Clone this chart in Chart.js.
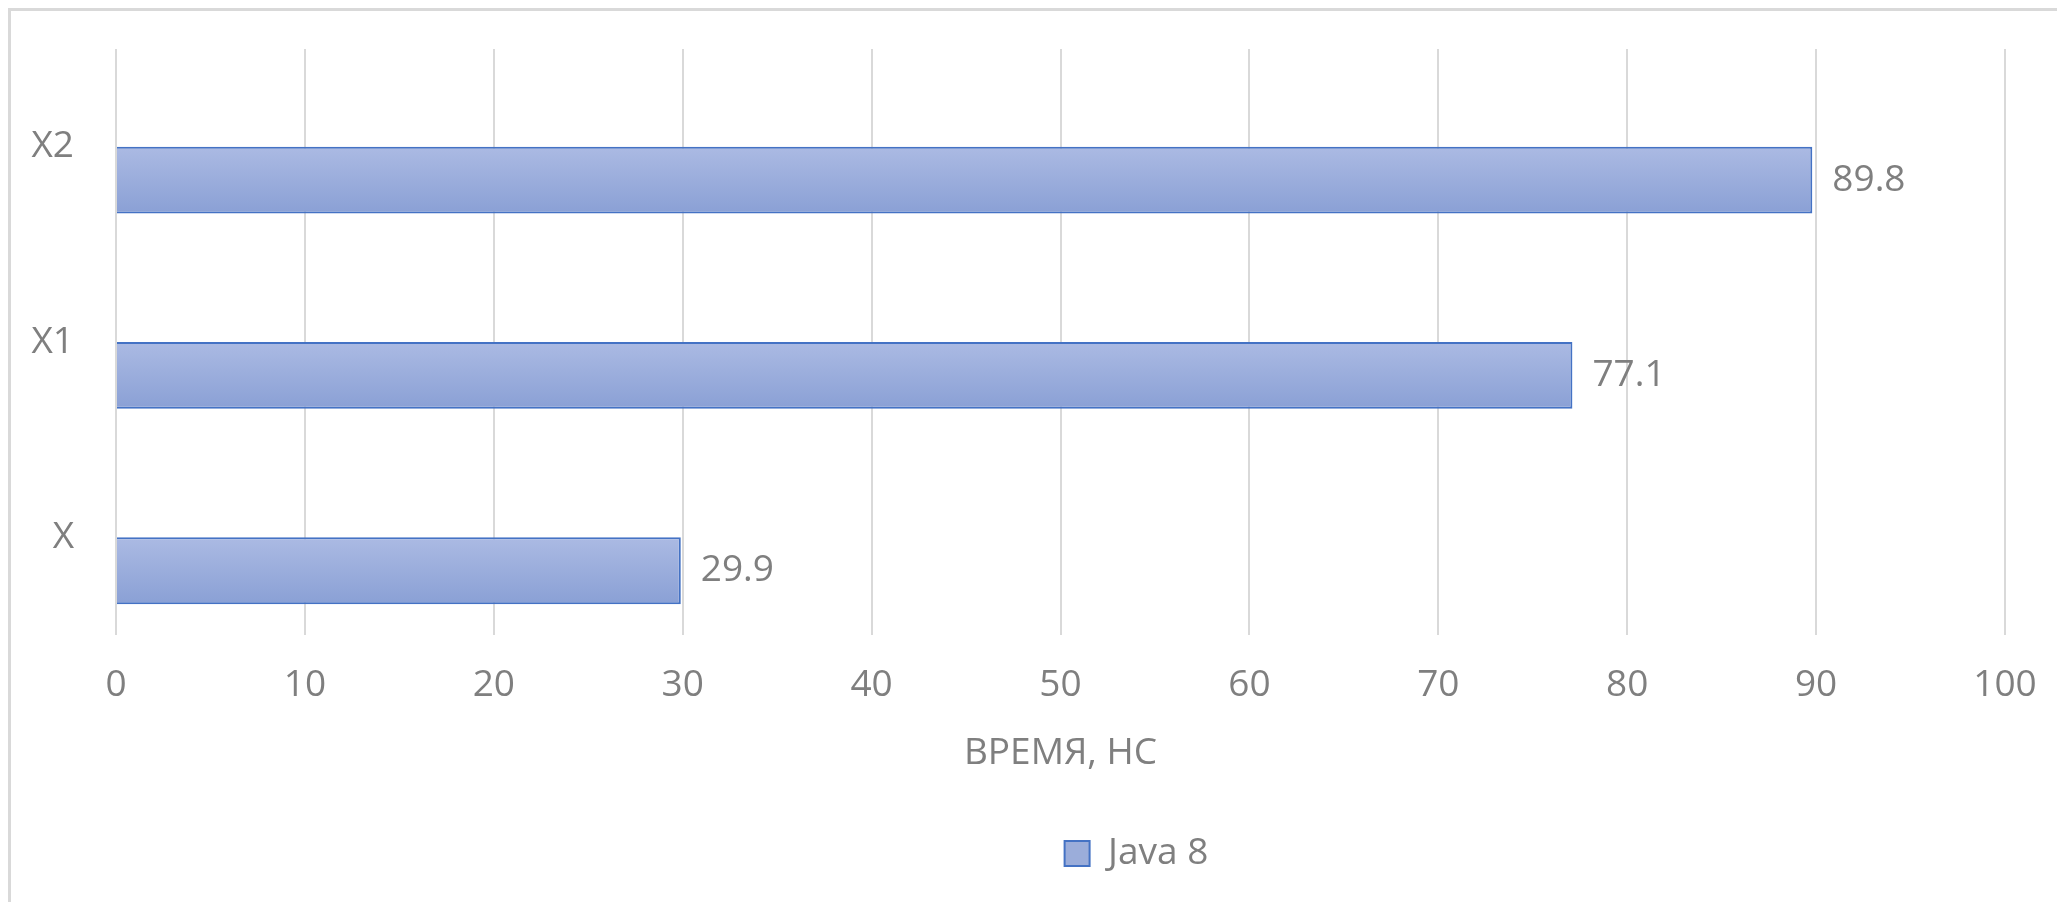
<!DOCTYPE html>
<html>
<head>
<meta charset="utf-8">
<title>Java 8</title>
<script src="https://cdn.jsdelivr.net/npm/chart.js@4.4.1/dist/chart.umd.min.js"></script>
<style>
	html, body { margin: 0; padding: 0; background: #ffffff; overflow: hidden; }
	#wrap { position: relative; width: 2057px; height: 902px; }
	#frame {
		position: absolute; left: 8px; top: 8px; right: -10px; bottom: -10px;
		border-left: 3px solid #d9d9d9; border-top: 3px solid #d9d9d9;
	}
	#chart { position: absolute; left: 0; top: 0; }
</style>
</head>
<body>
<div id="wrap">
	<div id="frame"></div>
	<canvas id="chart" width="2057" height="902"></canvas>
</div>
<script>
// categories listed bottom-up, like the spreadsheet
const categories = ['X', 'X1', 'X2'];
const seriesName = 'Java 8';
const java8 = [29.9, 77.1, 89.8];
// empty series: it still takes the upper slot in each category
const spare = [null, null, null];
const xTicks = [0, 10, 20, 30, 40, 50, 60, 70, 80, 90, 100];
const axisTitle = 'ВРЕМЯ, НС';

const grey = '#7f7f7f';
const font = { family: "'Open Sans', 'Liberation Sans', sans-serif", size: 37 };
const JAVA = 1; // dataset index of the drawn series

// vertical gradient fill for every bar
const barGradient = {
	id: 'barGradient',
	beforeDatasetsDraw(chart) {
		const ctx = chart.ctx;
		const meta = chart.getDatasetMeta(JAVA);
		meta.data.forEach(bar => {
			const top = bar.y - bar.height / 2;
			const g = ctx.createLinearGradient(0, top, 0, top + bar.height);
			g.addColorStop(0, '#abbae3');
			g.addColorStop(1, '#8aa0d5');
			bar.options = Object.assign({}, bar.options, { backgroundColor: g });
		});
	}
};

// value labels to the right of the bars
const valueLabels = {
	id: 'valueLabels',
	afterDatasetsDraw(chart) {
		const ctx = chart.ctx;
		const meta = chart.getDatasetMeta(JAVA);
		ctx.save();
		ctx.fillStyle = grey;
		ctx.font = font.size + 'px ' + font.family;
		ctx.textAlign = 'left';
		ctx.textBaseline = 'middle';
		meta.data.forEach((bar, i) => {
			ctx.fillText(java8[i].toFixed(1), bar.x + 20, bar.y);
		});
		ctx.restore();
	}
};

// the legend sits a bit right of centre
const legendShift = {
	id: 'legendShift',
	afterLayout(chart) {
		chart.legend.left += 134;
		chart.legend.right += 134;
	}
};

new Chart(document.getElementById('chart'), {
	type: 'bar',
	data: {
		labels: categories,
		datasets: [{
			label: '',
			data: spare,
			backgroundColor: '#ed7d31',
			categoryPercentage: 0.684,
			barPercentage: 1
		}, {
			label: seriesName,
			data: java8,
			backgroundColor: '#9badda',
			borderColor: '#4472c4',
			borderWidth: 2,
			categoryPercentage: 0.684,
			barPercentage: 1
		}]
	},
	options: {
		indexAxis: 'y',
		responsive: false,
		animation: false,
		layout: { padding: { top: 49, right: 52, left: 0, bottom: 20 } },
		scales: {
			x: {
				min: 0,
				max: 100,
				afterBuildTicks(scale) {
					scale.ticks = xTicks.map(v => ({ value: v }));
				},
				afterFit(scale) {
					scale.height = 190;
					scale.paddingLeft = 0;
					scale.paddingRight = 0;
				},
				grid: { color: '#d9d9d9', lineWidth: 2, drawTicks: false },
				border: { display: false },
				ticks: { color: grey, font: font, padding: 28, maxRotation: 0 },
				title: {
					display: true,
					text: axisTitle,
					color: grey,
					font: font,
					padding: { top: 19, bottom: 49 }
				}
			},
			y: {
				reverse: true,
				afterFit(scale) {
					scale.width = 116;
					scale.paddingTop = 0;
					scale.paddingBottom = 0;
				},
				grid: { display: false, drawTicks: false },
				border: { display: false },
				ticks: { color: grey, font: font, padding: 42 }
			}
		},
		plugins: {
			legend: {
				position: 'bottom',
				labels: {
					color: grey,
					font: font,
					boxWidth: 25,
					boxHeight: 25,
					padding: 10,
					filter: item => item.text !== ''
				}
			},
			tooltip: { enabled: false }
		}
	},
	plugins: [barGradient, valueLabels, legendShift]
});
</script>
</body>
</html>
